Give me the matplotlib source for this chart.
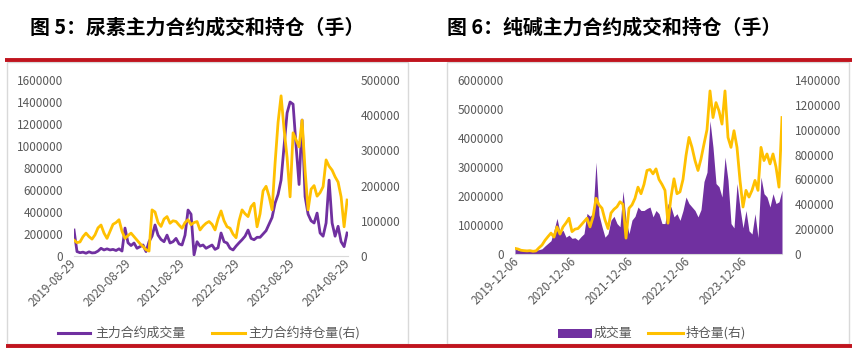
import matplotlib
matplotlib.use("Agg")
import matplotlib.pyplot as plt
from matplotlib.lines import Line2D
from matplotlib.patches import Rectangle
import pandas as pd

plt.rcParams['font.family'] = ['Noto Sans CJK SC', 'DejaVu Sans']

PURPLE = '#7030A0'
GOLD = '#FFC000'
GRAY_TXT = '#595959'
RED = '#C0141E'

# ---------------- data ----------------
title_left = "图 5：尿素主力合约成交和持仓（手）"
title_right = "图 6：纯碱主力合约成交和持仓（手）"

left_start, left_end = "2019-08-29", "2024-08-23"
left_ticks = ["2019-08-29", "2020-08-29", "2021-08-29", "2022-08-29", "2023-08-29", "2024-08-29"]
left_volume = [236000, 40000, 30000, 35000, 25000, 38000, 28000, 30000, 45000, 70000,
               55000, 65000, 55000, 60000, 50000, 65000, 45000, 254000, 120000, 95000,
               118000, 70000, 85000, 100000, 40000, 130000, 180000, 282000, 190000, 150000,
               130000, 190000, 118000, 130000, 160000, 110000, 100000, 190000, 418000, 380000,
               10000, 130000, 90000, 100000, 70000, 85000, 100000, 60000, 75000, 209000,
               130000, 118000, 70000, 55000, 90000, 120000, 148000, 180000, 236000, 160000,
               148000, 170000, 170000, 200000, 230000, 290000, 350000, 480000, 560000, 690000,
               1000000, 1300000, 1400000, 1380000, 1000000, 650000, 1236000, 540000, 380000, 320000,
               300000, 390000, 209000, 180000, 300000, 690000, 300000, 180000, 270000, 130000,
               85000, 209000]
left_oi = [45000, 38000, 40000, 55000, 65000, 55000, 48000, 60000, 80000, 88000,
           65000, 50000, 70000, 90000, 95000, 103000, 70000, 50000, 58000, 65000,
           55000, 45000, 35000, 27000, 18000, 14000, 131000, 125000, 95000, 84000,
           105000, 112000, 93000, 100000, 98000, 88000, 79000, 95000, 103000, 89000,
           95000, 98000, 74000, 85000, 93000, 98000, 90000, 74000, 105000, 128000,
           100000, 83000, 79000, 62000, 52000, 100000, 131000, 120000, 112000, 140000,
           150000, 83000, 120000, 185000, 198000, 170000, 131000, 264000, 380000, 455000,
           360000, 280000, 168000, 350000, 330000, 310000, 386000, 244000, 131000, 190000,
           200000, 170000, 180000, 197000, 273000, 255000, 244000, 225000, 210000, 168000,
           83000, 159000]
left_y1_ticks = [0, 200000, 400000, 600000, 800000, 1000000, 1200000, 1400000, 1600000]
left_y2_ticks = [0, 100000, 200000, 300000, 400000, 500000]
left_labels = ["主力合约成交量", "主力合约持仓量(右)"]

right_start, right_end = "2019-11-23", "2024-07-30"
right_ticks = ["2019-12-06", "2020-12-06", "2021-12-06", "2022-12-06", "2023-12-06"]
right_volume = [250000, 130000, 120000, 110000, 120000, 110000, 120000, 130000, 150000, 180000,
                280000, 370000, 460000, 820000, 1230000, 750000, 820000, 580000, 650000, 540000,
                560000, 480000, 600000, 700000, 1400000, 1300000, 1400000, 3165000, 1350000, 940000,
                580000, 700000, 1170000, 1300000, 1050000, 940000, 2170000, 1170000, 700000, 1170000,
                1300000, 1620000, 1500000, 1500000, 1570000, 1620000, 1280000, 1500000, 1390000, 1050000,
                1050000, 1740000, 1620000, 1280000, 1390000, 1160000, 1500000, 1965000, 1740000, 1620000,
                1500000, 1280000, 1530000, 2500000, 2820000, 4595000, 3680000, 2430000, 2320000, 1965000,
                3340000, 2545000, 1050000, 900000, 2430000, 1580000, 900000, 1500000, 800000, 690000,
                1390000, 570000, 2650000, 2080000, 1965000, 1620000, 2080000, 1740000, 1800000, 2200000]
right_oi = [45000, 40000, 30000, 27000, 25000, 27000, 22000, 25000, 50000, 72000,
            110000, 140000, 168000, 136000, 218000, 160000, 218000, 250000, 288000, 180000,
            200000, 205000, 232000, 260000, 288000, 218000, 298000, 448000, 395000, 368000,
            275000, 205000, 330000, 360000, 380000, 420000, 400000, 128000, 368000, 395000,
            448000, 538000, 485000, 560000, 672000, 680000, 645000, 685000, 600000, 560000,
            512000, 248000, 458000, 605000, 485000, 500000, 600000, 792000, 938000, 858000,
            752000, 672000, 765000, 885000, 1000000, 1312000, 1098000, 1218000, 1152000, 1045000,
            1312000, 938000, 858000, 992000, 858000, 592000, 378000, 512000, 458000, 512000,
            592000, 512000, 858000, 752000, 805000, 725000, 805000, 700000, 538000, 1098000]
right_y1_ticks = [0, 1000000, 2000000, 3000000, 4000000, 5000000, 6000000]
right_y2_ticks = [0, 200000, 400000, 600000, 800000, 1000000, 1200000, 1400000]
right_labels = ["成交量", "持仓量(右)"]

# ---------------- figure ----------------
W, H = 853, 349
fig = plt.figure(figsize=(W / 100, H / 100), dpi=100)


def fx(px):
    return px / W


def fy(py):
    return 1 - py / H


# frames
for x0, x1 in [(7, 408), (447, 849)]:
    fig.add_artist(Rectangle((fx(x0), fy(344)), fx(x1 - x0), (344 - 62) / H,
                             transform=fig.transFigure, fill=False,
                             edgecolor='#D9D9D9', lw=1.0))
# red rules
fig.add_artist(Line2D([fx(5), fx(853)], [fy(59.5), fy(59.5)], transform=fig.transFigure,
                      color=RED, lw=2.8, solid_capstyle='butt'))
fig.add_artist(Line2D([fx(6), fx(853)], [fy(345.5), fy(345.5)], transform=fig.transFigure,
                      color=RED, lw=2.8, solid_capstyle='butt'))

# titles
fig.text(fx(30), fy(27), title_left, fontsize=14.3, fontweight='bold', ha='left', va='center', color='black')
fig.text(fx(447), fy(27), title_right, fontsize=14.3, fontweight='bold', ha='left', va='center', color='black')


def style(ax, ax2, y1t, y2t, ticks, xlim):
    for a in (ax, ax2):
        for s in a.spines.values():
            s.set_visible(False)
        a.tick_params(length=0, colors=GRAY_TXT, labelsize=8.5)
    ax.spines['bottom'].set_visible(True)
    ax.spines['bottom'].set_color('#D9D9D9')
    ax.set_ylim(y1t[0], y1t[-1])
    ax.set_yticks(y1t)
    ax.set_yticklabels([str(v) for v in y1t])
    ax2.set_ylim(y2t[0], y2t[-1])
    ax2.set_yticks(y2t)
    ax2.set_yticklabels([str(v) for v in y2t])
    ax.tick_params(axis='y', pad=8)
    ax2.tick_params(axis='y', pad=9)
    ax.set_xlim(pd.Timestamp(xlim[0]), pd.Timestamp(xlim[1]))
    tk = [pd.Timestamp(t) for t in ticks]
    ax.set_xticks(tk)
    ax.set_xticklabels(ticks)
    ax.tick_params(axis='x', pad=4)
    for lab in ax.get_xticklabels():
        lab.set_rotation(45)
        lab.set_ha('right')
        lab.set_va('center')
        lab.set_rotation_mode('anchor')


# ---- left chart ----
axL = fig.add_axes([fx(74), fy(256), fx(348 - 74), (256 - 80) / H])
axL2 = axL.twinx()
dL = pd.date_range(left_start, left_end, periods=len(left_volume))
axL.plot(dL, left_volume, color=PURPLE, lw=2.0)
axL2.plot(dL, left_oi, color=GOLD, lw=2.0)
style(axL, axL2, left_y1_ticks, left_y2_ticks, left_ticks, ("2019-08-29", "2024-08-29"))

# ---- right chart ----
axR = fig.add_axes([fx(515), fy(254), fx(782 - 515), (254 - 80) / H])
axR2 = axR.twinx()
dR = pd.date_range(right_start, right_end, periods=len(right_volume))
axR.fill_between(dR, 0, right_volume, color=PURPLE, lw=0)
axR2.plot(dR, right_oi, color=GOLD, lw=2.0)
style(axR, axR2, right_y1_ticks, right_y2_ticks, right_ticks, (right_start, right_end))

# ---- legends (manual) ----
ly = fy(333)
fig.add_artist(Line2D([fx(58), fx(90)], [ly, ly], transform=fig.transFigure, color=PURPLE, lw=2.2))
fig.text(fx(95), ly, left_labels[0], fontsize=9.3, color=GRAY_TXT, ha='left', va='center')
fig.add_artist(Line2D([fx(212), fx(245)], [ly, ly], transform=fig.transFigure, color=GOLD, lw=2.2))
fig.text(fx(248), ly, left_labels[1], fontsize=9.3, color=GRAY_TXT, ha='left', va='center')

fig.add_artist(Rectangle((fx(558), fy(338)), fx(34), 9 / H, transform=fig.transFigure,
                         facecolor=PURPLE, edgecolor='none'))
fig.text(fx(594), ly, right_labels[0], fontsize=9.3, color=GRAY_TXT, ha='left', va='center')
fig.add_artist(Line2D([fx(648), fx(683)], [ly, ly], transform=fig.transFigure, color=GOLD, lw=2.2))
fig.text(fx(686), ly, right_labels[1], fontsize=9.3, color=GRAY_TXT, ha='left', va='center')

fig.savefig("out.png", dpi=100)
